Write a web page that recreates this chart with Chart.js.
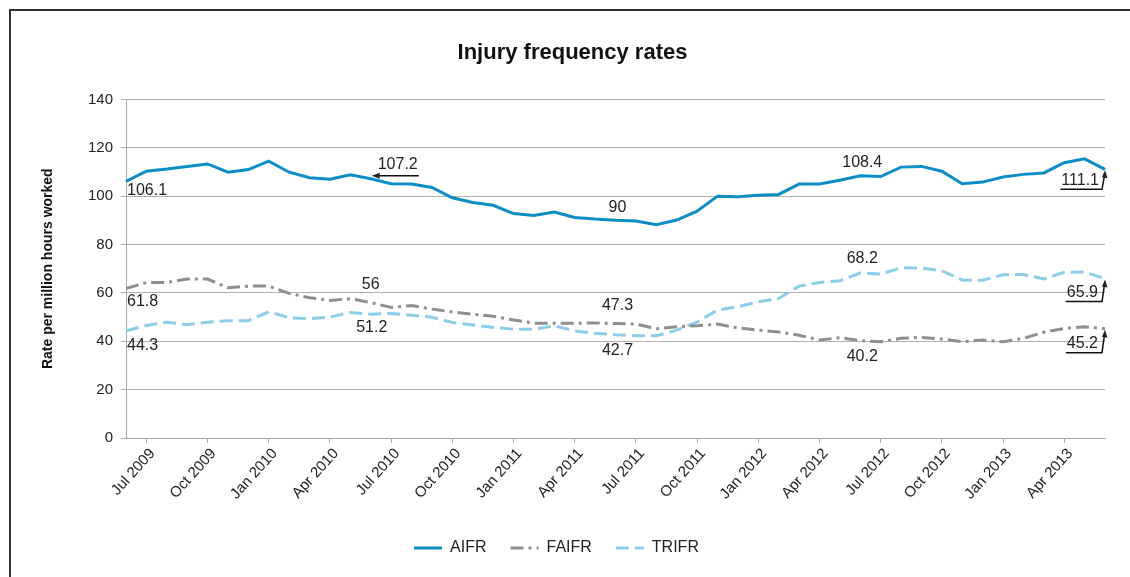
<!DOCTYPE html>
<html>
<head>
<meta charset="utf-8">
<script src="https://cdn.jsdelivr.net/npm/chart.js@4/dist/chart.umd.min.js"></script>
<style>
  body { margin: 0; background: #fff; }
  #frame { position: absolute; left: 9px; top: 9px; width: 1130px; height: 580px;
           border-left: 2px solid #333; border-top: 2px solid #333; }
  #wrap { position: absolute; left: 0; top: 0; width: 1130px; height: 577px; }
</style>
</head>
<body>
<div id="frame"></div>
<div id="wrap"><canvas id="chart1" width="1130" height="577"></canvas></div>
<script>
// months Jun 2009 - Jun 2013
const months = [
  "Jun 2009", "Jul 2009", "Aug 2009", "Sep 2009", "Oct 2009", "Nov 2009", "Dec 2009",
  "Jan 2010", "Feb 2010", "Mar 2010", "Apr 2010", "May 2010", "Jun 2010", "Jul 2010",
  "Aug 2010", "Sep 2010", "Oct 2010", "Nov 2010", "Dec 2010", "Jan 2011", "Feb 2011",
  "Mar 2011", "Apr 2011", "May 2011", "Jun 2011", "Jul 2011", "Aug 2011", "Sep 2011",
  "Oct 2011", "Nov 2011", "Dec 2011", "Jan 2012", "Feb 2012", "Mar 2012", "Apr 2012",
  "May 2012", "Jun 2012", "Jul 2012", "Aug 2012", "Sep 2012", "Oct 2012", "Nov 2012",
  "Dec 2012", "Jan 2013", "Feb 2013", "Mar 2013", "Apr 2013", "May 2013", "Jun 2013"
];

const aifr = [
  106.1, 110.3, 111.2, 112.3, 113.3, 109.9, 111.0, 114.5, 109.9, 107.6, 107.0, 108.8, 107.2,
  105.1, 105.0, 103.6, 99.3, 97.4, 96.2, 92.8, 92.0, 93.4, 91.2, 90.5, 90,
  89.7, 88.2, 90.1, 93.8, 100.0, 99.7, 100.4, 100.7, 105.0, 105.0, 106.6, 108.4,
  108.1, 112.0, 112.3, 110.3, 105.1, 105.8, 107.9, 109.0, 109.6, 113.8, 115.4, 111.1
];
const faifr = [
  61.8, 64.3, 64.3, 65.7, 65.7, 62.1, 62.8, 62.8, 59.8, 58.0, 56.9, 57.6, 56,
  54.0, 54.8, 53.3, 52.1, 51.2, 50.3, 48.8, 47.5, 47.4, 47.4, 47.6, 47.3,
  47.1, 45.2, 46.0, 46.4, 47.1, 45.5, 44.6, 43.8, 42.5, 40.5, 41.5, 40.2,
  39.8, 41.2, 41.6, 40.9, 39.8, 40.5, 39.8, 41.2, 43.7, 45.3, 46.0, 45.2
];
const trifr = [
  44.3, 46.5, 47.9, 46.8, 47.9, 48.5, 48.5, 52.2, 49.7, 49.3, 50.0, 51.9, 51.2,
  51.5, 50.8, 49.9, 47.8, 46.7, 45.7, 45.0, 45.0, 46.4, 44.3, 43.3, 42.7,
  42.3, 42.3, 44.6, 47.9, 52.9, 54.3, 56.3, 57.7, 62.8, 64.3, 65.0, 68.2,
  67.8, 70.4, 70.3, 69.1, 65.3, 65.2, 67.5, 67.6, 65.8, 68.5, 68.6, 65.9
];

const yTicks = [0, 20, 40, 60, 80, 100, 120, 140];

// value labels: [dataset, point index, dx, dy, align, arrow]
const notes = [
  [0, 0, 1, 9, "left"],
  [0, 12, 47, -14, "right", "left"],
  [0, 24, 2, -13, "center"],
  [0, 36, 2, -13, "center"],
  [0, 48, -6, 11, "right", "up"],
  [1, 0, 1, 13, "left"],
  [1, 12, 0, -18, "center"],
  [1, 24, 2, -18, "center"],
  [1, 36, 2, 16, "center"],
  [1, 48, -7, 15, "right", "up"],
  [2, 0, 1, 15, "left"],
  [2, 12, 1, 13, "center"],
  [2, 24, 2, 16, "center"],
  [2, 36, 2, -14, "center"],
  [2, 48, -7, 14, "right", "up"]
];

const noteLabels = {
  id: "noteLabels",
  afterLayout(chart) {
    // legend sits a bit left of centre in the original
    chart.legend.left -= 16;
    chart.legend.right -= 16;
  },
  afterDatasetsDraw(chart) {
    const ctx = chart.ctx;
    ctx.save();
    ctx.font = "16px 'Liberation Sans', Arial, sans-serif";
    ctx.fillStyle = "#222";
    ctx.strokeStyle = "#111";
    ctx.lineWidth = 1.5;
    ctx.textBaseline = "middle";
    notes.forEach(function (n) {
      const pt = chart.getDatasetMeta(n[0]).data[n[1]];
      const val = chart.data.datasets[n[0]].data[n[1]];
      const txt = String(val);
      const tx = pt.x + n[2], ty = pt.y + n[3];
      ctx.textAlign = n[4];
      ctx.fillText(txt, tx, ty);
      const w = ctx.measureText(txt).width;
      if (n[5] === "left") {
        const ly = pt.y - 3;
        ctx.beginPath();
        ctx.moveTo(tx + 1, ly);
        ctx.lineTo(pt.x + 4, ly);
        ctx.stroke();
        ctx.beginPath();
        ctx.moveTo(pt.x + 1, ly);
        ctx.lineTo(pt.x + 9, ly - 3);
        ctx.lineTo(pt.x + 9, ly + 3);
        ctx.closePath();
        ctx.fill();
      } else if (n[5] === "up") {
        const ly = ty + 9;
        ctx.beginPath();
        ctx.moveTo(tx - w - 1, ly);
        ctx.lineTo(pt.x - 3, ly);
        ctx.lineTo(pt.x - 0.5, pt.y + 6);
        ctx.stroke();
        ctx.beginPath();
        ctx.moveTo(pt.x, pt.y + 1);
        ctx.lineTo(pt.x + 2.5, pt.y + 9);
        ctx.lineTo(pt.x - 3, pt.y + 8);
        ctx.closePath();
        ctx.fill();
      }
    });
    ctx.restore();
  }
};

const ctx = document.getElementById("chart1").getContext("2d");
Chart.defaults.font.family = "'Liberation Sans', Arial, sans-serif";
Chart.defaults.color = "#222";

new Chart(ctx, {
  type: "line",
  data: {
    labels: months,
    datasets: [
      { label: "AIFR", data: aifr, borderColor: "#0b8ec6", borderWidth: 3,
        pointRadius: 0, pointStyle: "line", tension: 0 },
      { label: "FAIFR", data: faifr, borderColor: "#8f8f91", borderWidth: 3,
        borderDash: [13, 5, 3, 5], pointRadius: 0, pointStyle: "line", tension: 0 },
      { label: "TRIFR", data: trifr, borderColor: "#8ccdea", borderWidth: 3,
        borderDash: [13, 6], pointRadius: 0, pointStyle: "line", tension: 0 }
    ]
  },
  options: {
    responsive: false,
    animation: false,
    layout: { padding: { left: 40, right: 25, top: 0, bottom: 11 } },
    plugins: {
      title: {
        display: true,
        text: "Injury frequency rates",
        color: "#111",
        font: { size: 22, weight: "bold" },
        padding: { top: 40, bottom: 33 }
      },
      legend: {
        position: "bottom",
        labels: {
          usePointStyle: true,
          pointStyleWidth: 28,
          boxHeight: 3,
          padding: 24,
          color: "#222",
          font: { size: 16 },
          generateLabels: function (chart) {
            const items = Chart.defaults.plugins.legend.labels.generateLabels(chart);
            items.forEach(function (it, i) {
              const ds = chart.data.datasets[i];
              it.lineDash = ds.borderDash || [];
              it.lineWidth = 3;
              it.strokeStyle = ds.borderColor;
            });
            return items;
          }
        }
      },
      tooltip: { enabled: false }
    },
    scales: {
      x: {
        afterFit: function (scale) { scale.height = 78; },
        border: { color: "#aaa" },
        grid: { drawOnChartArea: false, color: "#aaa", tickLength: 5 },
        ticks: {
          autoSkip: false,
          minRotation: 48,
          maxRotation: 48,
          padding: 2,
          labelOffset: 6,
          font: { size: 15 },
          color: "#222",
          callback: function (v, i) { return i % 3 === 1 ? months[i] : null; }
        }
      },
      y: {
        min: 0,
        max: 140,
        afterFit: function (scale) { scale.width = 86; },
        afterBuildTicks: function (scale) { scale.ticks = yTicks.map(function (v) { return { value: v }; }); },
        border: { color: "#aaa" },
        grid: { color: "#b0b0b0", tickLength: 5 },
        ticks: { padding: 8, font: { size: 15 }, color: "#222" },
        title: {
          display: true,
          text: "Rate per million hours worked",
          color: "#111",
          font: { size: 14, weight: "bold" },
          padding: 0
        }
      }
    }
  },
  plugins: [noteLabels]
});
</script>
</body>
</html>
